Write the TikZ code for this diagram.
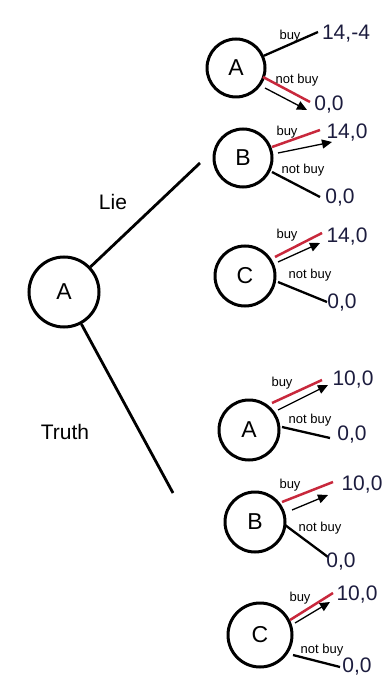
\documentclass[tikz,border=0pt]{standalone}
\usepackage{fontspec}
\setmainfont{Liberation Sans}
\usetikzlibrary{arrows.meta}
\definecolor{paycol}{RGB}{28,28,62}
\definecolor{redl}{RGB}{200,40,60}
\begin{document}
\begin{tikzpicture}[x=1pt,y=-1pt,
  dec/.style={circle,draw,line width=3pt,inner sep=0pt,font=\fontsize{23}{23}\selectfont},
  pay/.style={font=\fontsize{21}{21}\selectfont,text=paycol,inner sep=0pt},
  act/.style={font=\fontsize{13}{13}\selectfont,inner sep=0pt},
  edge/.style={line width=2.3pt},
  redline/.style={line width=2.5pt,draw=redl},
  arr/.style={line width=1.3pt,-{Triangle[length=10pt,width=9pt]}},
  lbl/.style={font=\fontsize{21}{21}\selectfont,inner sep=0pt}]
\useasboundingbox (0,0) rectangle (383,684);

% root
\node[dec,minimum size=70pt] (root) at (64,292) {A};
\coordinate (lieEnd) at (200,163);
\coordinate (truthEnd) at (173,493);
\draw[edge,line width=2.8pt] (root) -- (lieEnd);
\draw[edge,line width=2.8pt] (root) -- (truthEnd);
\node[lbl] (lie) at (113,202) {Lie};
\node[lbl] (truth) at (65,432) {Truth};

% node 1 : A
\node[dec,minimum size=58pt] (n1) at (236,68) {A};
\coordinate (n1b) at (318,32);
\draw[edge] (n1) -- (n1b);
\node[act] (n1buy) at (290,36) {buy};
\node[pay] (n1p) at (346,34) {14,-4};
\coordinate (n1rs) at (263,77); \coordinate (n1re) at (310,102);
\draw[redline] (n1rs) -- (n1re);
\coordinate (n1as) at (265,88); \coordinate (n1ae) at (307,110);
\draw[arr] (n1as) -- (n1ae);
\node[act] (n1nb) at (297,80) {not buy};
\node[pay] (n1q) at (329,105) {0,0};

% node 2 : B
\node[dec,minimum size=58pt] (n2) at (243,158) {B};
\coordinate (n2rs) at (272,147); \coordinate (n2re) at (320,130);
\draw[redline] (n2rs) -- (n2re);
\coordinate (n2as) at (278,153); \coordinate (n2ae) at (332,142);
\draw[arr] (n2as) -- (n2ae);
\node[act] (n2buy) at (287,132) {buy};
\node[pay] (n2p) at (347,133) {14,0};
\node[act] (n2nb) at (303,170) {not buy};
\coordinate (n2ns) at (272,172); \coordinate (n2ne) at (320,197);
\draw[edge] (n2ns) -- (n2ne);
\node[pay] (n2q) at (340,198) {0,0};

% node 3 : C
\node[dec,minimum size=60pt] (n3) at (245,276) {C};
\coordinate (n3rs) at (275,257); \coordinate (n3re) at (322,233);
\draw[redline] (n3rs) -- (n3re);
\coordinate (n3as) at (278,262); \coordinate (n3ae) at (320,243);
\draw[arr] (n3as) -- (n3ae);
\node[act] (n3buy) at (287,235) {buy};
\node[pay] (n3p) at (347,237) {14,0};
\node[act] (n3nb) at (310,275) {not buy};
\coordinate (n3ns) at (278,282); \coordinate (n3ne) at (327,302);
\draw[edge] (n3ns) -- (n3ne);
\node[pay] (n3q) at (342,303) {0,0};

% node 4 : A
\node[dec,minimum size=60pt] (n4) at (249,430) {A};
\coordinate (n4rs) at (272,403); \coordinate (n4re) at (322,380);
\draw[redline] (n4rs) -- (n4re);
\coordinate (n4as) at (278,410); \coordinate (n4ae) at (328,385);
\draw[arr] (n4as) -- (n4ae);
\node[act] (n4buy) at (282,383) {buy};
\node[pay] (n4p) at (353,380) {10,0};
\node[act] (n4nb) at (310,420) {not buy};
\coordinate (n4ns) at (282,427); \coordinate (n4ne) at (330,438);
\draw[edge] (n4ns) -- (n4ne);
\node[pay] (n4q) at (352,435) {0,0};

% node 5 : B
\node[dec,minimum size=60pt] (n5) at (255,522) {B};
\coordinate (n5rs) at (282,502); \coordinate (n5re) at (333,482);
\draw[redline] (n5rs) -- (n5re);
\coordinate (n5as) at (292,510); \coordinate (n5ae) at (328,495);
\draw[arr] (n5as) -- (n5ae);
\node[act] (n5buy) at (290,485) {buy};
\node[pay] (n5p) at (362,485) {10,0};
\node[act] (n5nb) at (320,528) {not buy};
\coordinate (n5ns) at (285,525); \coordinate (n5ne) at (328,557);
\draw[edge] (n5ns) -- (n5ne);
\node[pay] (n5q) at (341,562) {0,0};

% node 6 : C
\node[dec,minimum size=64pt] (n6) at (260,635) {C};
\coordinate (n6rs) at (290,620); \coordinate (n6re) at (333,593);
\draw[redline] (n6rs) -- (n6re);
\coordinate (n6as) at (295,623); \coordinate (n6ae) at (330,602);
\draw[arr] (n6as) -- (n6ae);
\node[act] (n6buy) at (300,598) {buy};
\node[pay] (n6p) at (357,595) {10,0};
\node[act] (n6nb) at (322,650) {not buy};
\coordinate (n6ns) at (293,655); \coordinate (n6ne) at (340,667);
\draw[edge] (n6ns) -- (n6ne);
\node[pay] (n6q) at (357,667) {0,0};
\end{tikzpicture}
\end{document}
